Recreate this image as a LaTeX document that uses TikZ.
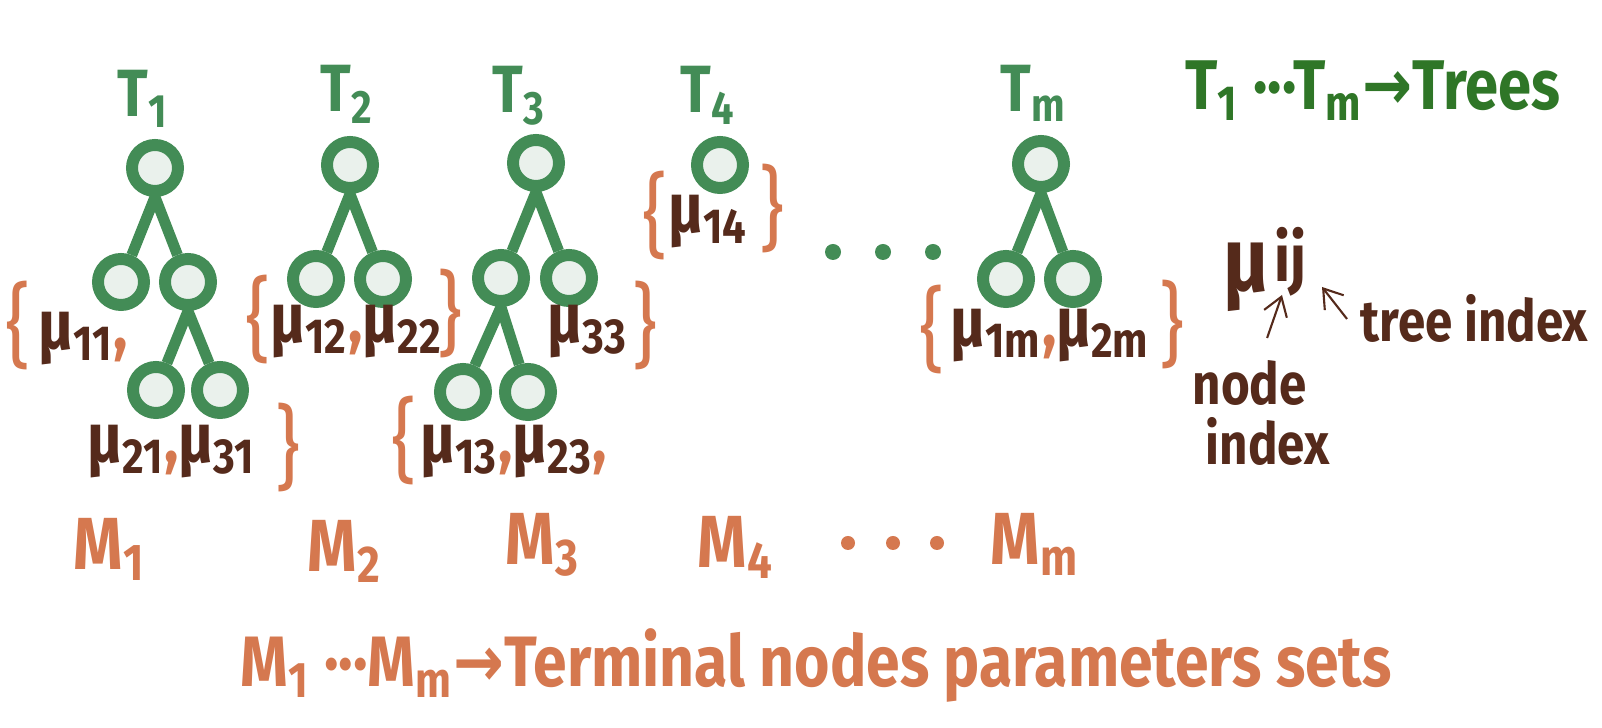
\documentclass[tikz,border=0pt]{standalone}
\usepackage{fontspec}
\setmainfont{Fira Sans}[FakeStretch=0.85]
\newfontfamily\arrowfont{DejaVu Sans}[FakeStretch=0.85]
\definecolor{treegreen}{HTML}{438C56}
\definecolor{leaffill}{HTML}{EAF1EC}
\definecolor{keygreen}{HTML}{2F7627}
\definecolor{mubrown}{HTML}{552A1B}
\definecolor{setorange}{HTML}{D5784F}
\usetikzlibrary{arrows.meta}
\newcommand\mup[1]{μ\textsubscript{#1}}
\newcommand\oc{\textcolor{setorange}{,}}

\begin{document}
\begin{tikzpicture}[x=0.01cm,y=-0.01cm,
  tnode/.style={circle,draw=treegreen,fill=leaffill,line width=3.4pt,
    minimum size=4.6mm,inner sep=0pt},
  tedge/.style={treegreen,line width=3.1pt},
  tname/.style={anchor=base west,inner sep=0pt,text=treegreen,
    font=\bfseries\fontsize{19}{22}\selectfont},
  mulbl/.style={anchor=base west,inner sep=0pt,text=mubrown,
    font=\bfseries\fontsize{20}{23}\selectfont},
  brace/.style={inner sep=0pt,text=setorange,font=\fontsize{26}{30}\selectfont},
  mset/.style={anchor=base west,inner sep=0pt,text=setorange,
    font=\bfseries\fontsize{21}{24}\selectfont},
  ptr/.style={mubrown,line width=0.6pt,-{Straight Barb[length=1.8mm,width=2.4mm]}}]
  \path[use as bounding box] (0,0) rectangle (1602,728);

  % trees
  \node[tnode] (t1r) at (155,168) {};
  \node[tnode] (t1a) at (121,282) {};
  \node[tnode] (t1b) at (188,282) {};
  \node[tnode] (t1c) at (156,390) {};
  \node[tnode] (t1d) at (220,390) {};
  \node[tnode] (t2r) at (350,165) {};
  \node[tnode] (t2a) at (316,279) {};
  \node[tnode] (t2b) at (383,279) {};
  \node[tnode] (t3r) at (536,163) {};
  \node[tnode] (t3a) at (501,278) {};
  \node[tnode] (t3b) at (569,278) {};
  \node[tnode] (t3c) at (463,392) {};
  \node[tnode] (t3d) at (528,392) {};
  \node[tnode] (t4r) at (720,165) {};
  \node[tnode] (tmr) at (1041,164) {};
  \node[tnode] (tma) at (1006,279) {};
  \node[tnode] (tmb) at (1073,279) {};
  \foreach \p/\c in {t1r/t1a,t1r/t1b,t1b/t1c,t1b/t1d,t2r/t2a,t2r/t2b,
    t3r/t3a,t3r/t3b,t3a/t3c,t3a/t3d,tmr/tma,tmr/tmb}
    \draw[tedge] (\p.south) -- (\c);
  \foreach \x in {833,883,933}
    \fill[treegreen] (\x,252) circle[radius=0.8mm];

  % tree names
  \foreach \n/\x/\y in {1/117/117,2/320/112,3/492/113,4/680/113,m/1000/112}
    \node[tname] (lbl\n) at (\x,\y) {T\textsubscript{\n}};
  \node[tname,text=keygreen,font=\bfseries\fontsize{20}{24}\selectfont]
    (treekey) at (1185,110) {T\textsubscript{1} ···T\textsubscript{m}{\arrowfont→}Trees};

  % parameters
  \node[mulbl] (mu11) at (38,350) {\mup{11}\oc};
  \node[mulbl] (mu21) at (87,463) {\mup{21}\oc\mup{31}};
  \node[mulbl] (mu12) at (270,343) {\mup{12}\oc\mup{22}};
  \node[mulbl] (mu13) at (420,463) {\mup{13}\oc\mup{23}\oc};
  \node[mulbl] (mu33) at (547,343) {\mup{33}};
  \node[mulbl] (mu14) at (668,233) {\mup{14}};
  \node[mulbl] (mu1m) at (950,347) {\mup{1m}\oc\mup{2m}};
  \foreach \n/\x/\y/\b in {a/18/326/\{,b/288/448/\},c/258/320/\{,d/450/314/\},
    e/404/441/\{,f/645/326/\},g/655/216/\{,h/772/209/\},i/932/330/\{,j/1172/325/\}}
    \node[brace] (br\n) at (\x,\y) {\b};

  % index key
  \node[mulbl,font=\bfseries\fontsize{26}{30}\selectfont] (muij) at (1223,292)
    {μ\kern1.5pt\raisebox{3pt}{\fontsize{19}{19}\selectfont ij}};
  \node[mulbl,font=\bfseries\fontsize{16.5}{20}\selectfont] (treeidx) at (1360,342) {tree index};
  \node[mulbl,anchor=north west,align=left,font=\bfseries\fontsize{16.5}{17}\selectfont]
    (nodeidx) at (1192,360) {node\\\hspace*{1.3mm}index};
  \coordinate (itip) at (1282,295);
  \coordinate (jtip) at (1322,287);
  \draw[ptr] ([shift={(6,-22)}]nodeidx.north) -- (itip);
  \draw[ptr] ([shift={(-13,0)}]treeidx.west) -- (jtip);

  % sets
  \foreach \s/\x/\y in {1/73/570,2/307/572,3/505/565,4/697/568,m/990/565}
    \node[mset] (set\s) at (\x,\y) {M\textsubscript{\s}};
  \foreach \x in {848,893,937}
    \fill[setorange] (\x,543) circle[radius=0.7mm];
  \node[mset,font=\bfseries\fontsize{20.3}{24}\selectfont] (setkey) at (240,687)
    {M\textsubscript{1} ···M\textsubscript{m}{\arrowfont→}Terminal nodes parameters sets};
\end{tikzpicture}
\end{document}
